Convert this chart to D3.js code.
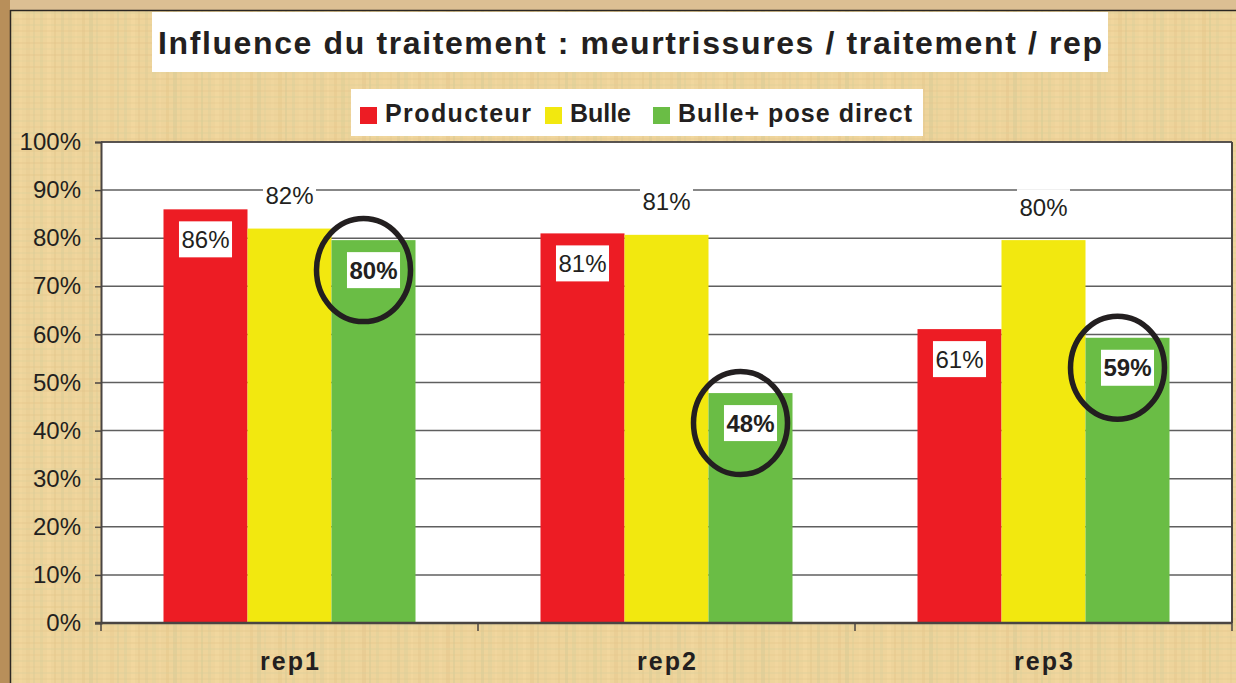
<!DOCTYPE html>
<html>
<head>
<meta charset="utf-8">
<script src="https://cdn.jsdelivr.net/npm/d3@7"></script>
<style>
    body { margin: 0; background: #e9cf98; }
    svg { display: block; }
    text { font-family: Arial, "Liberation Sans", sans-serif; fill: #231f20; }
</style>
</head>
<body>
<div id="chart"></div>
<script>
/////////////////DATA////////////////////////////
var titleText = 'Influence du traitement : meurtrissures / traitement / rep';
var reps = ['rep1', 'rep2', 'rep3'];
var seriesNames = ['Producteur', 'Bulle', 'Bulle+ pose direct'];
var seriesColors = ['#ed1c24', '#f2e80f', '#6abd45'];
var producteur = [0.86, 0.81, 0.611];
var bulle = [0.82, 0.807, 0.796];
var bullePoseDirect = [0.796, 0.478, 0.593];
var yTicks = [0, 0.1, 0.2, 0.3, 0.4, 0.5, 0.6, 0.7, 0.8, 0.9, 1];
// series highlighted with a hand drawn ring
var circledSeries = 'Bulle+ pose direct';
/////////////////END DATA////////////////////////////

var W = 1236, H = 683;
var plot = { left: 101, right: 1232, top: 142, bottom: 623 };
var seriesValues = [producteur, bulle, bullePoseDirect];

var svg = d3.select('#chart').append('svg')
    .attr('width', W)
    .attr('height', H);

// parchment-ish background: base colour + soft woven stripes
var bg = svg.append('g');
bg.append('rect').attr('width', W).attr('height', H).attr('fill', '#eed49b');
var stripeCols = ['#d9cf9a', '#f7dba3', '#e3c489', '#cfc894'];
for (var i = 12; i < W; i += 7) {
    bg.append('rect')
        .attr('x', i).attr('y', 10)
        .attr('width', 2 + (i % 3)).attr('height', H)
        .attr('fill', stripeCols[(i * 7) % 4])
        .attr('opacity', 0.2 + 0.2 * Math.abs(Math.sin(i * 0.37)));
}
for (var j = 12; j < H; j += 6) {
    bg.append('rect')
        .attr('x', 10).attr('y', j)
        .attr('width', W).attr('height', 2 + (j % 2))
        .attr('fill', stripeCols[(j * 5) % 4])
        .attr('opacity', 0.15 + 0.2 * Math.abs(Math.cos(j * 0.29)));
}
// frame strips on the top and left edges
bg.append('rect').attr('x', 0).attr('y', 0).attr('width', W).attr('height', 10).attr('fill', '#dcbf93');
bg.append('rect').attr('x', 0).attr('y', 0).attr('width', 10).attr('height', H).attr('fill', '#b88f5a');
bg.append('line').attr('x1', 10).attr('x2', W).attr('y1', 10.5).attr('y2', 10.5)
    .attr('stroke', '#2b2622').attr('stroke-width', 1.5);
bg.append('line').attr('x1', 10.5).attr('x2', 10.5).attr('y1', 10).attr('y2', H)
    .attr('stroke', '#2b2622').attr('stroke-width', 1.5);

// scales
var x0 = d3.scaleBand().domain(reps).range([plot.left, plot.right]).padding(0);
var x1 = d3.scaleBand().domain(seriesNames).range([0, x0.bandwidth()])
    .paddingInner(0).paddingOuter(0.744);
var y = d3.scaleLinear().domain([0, 1]).range([plot.bottom, plot.top]);
var pct = d3.format('.0%');

// plot area
svg.append('rect')
    .attr('x', plot.left).attr('y', plot.top)
    .attr('width', plot.right - plot.left).attr('height', plot.bottom - plot.top)
    .attr('fill', '#ffffff');

// gridlines
svg.append('g')
    .selectAll('line')
    .data(yTicks.filter(function (t) { return t > 0; }))
    .enter().append('line')
    .attr('x1', plot.left).attr('x2', plot.right)
    .attr('y1', function (d) { return y(d); }).attr('y2', function (d) { return y(d); })
    .attr('stroke', '#5f5f5f').attr('stroke-width', 1.5);

// y axis
var yAxis = svg.append('g')
    .attr('transform', 'translate(' + plot.left + ',0)')
    .call(d3.axisLeft(y).tickValues(yTicks).tickFormat(pct).tickSize(6).tickPadding(14));
yAxis.select('.domain').attr('stroke', '#4a4542').attr('stroke-width', 2);
yAxis.selectAll('.tick line').attr('stroke', '#4a4542').attr('stroke-width', 1.5);
yAxis.selectAll('.tick text')
    .attr('font-size', 24)
    .attr('font-family', 'Arial, "Liberation Sans", sans-serif')
    .attr('fill', '#231f20');

// bars
var groups = svg.append('g').selectAll('g')
    .data(reps)
    .enter().append('g')
    .attr('transform', function (d) { return 'translate(' + x0(d) + ',0)'; });

groups.selectAll('rect')
    .data(function (rep, ri) {
        return seriesNames.map(function (s, si) {
            return { rep: rep, series: s, si: si, value: seriesValues[si][ri] };
        });
    })
    .enter().append('rect')
    .attr('x', function (d) { return x1(d.series); })
    .attr('y', function (d) { return y(d.value); })
    .attr('width', x1.bandwidth())
    .attr('height', function (d) { return y(0) - y(d.value); })
    .attr('fill', function (d) { return seriesColors[d.si]; });

// x axis
svg.append('line')
    .attr('x1', plot.left - 6).attr('x2', plot.right)
    .attr('y1', plot.bottom).attr('y2', plot.bottom)
    .attr('stroke', '#4a4542').attr('stroke-width', 2.5);
svg.append('g').selectAll('line')
    .data(reps.concat(['end']))
    .enter().append('line')
    .attr('x1', function (d) { return d === 'end' ? plot.right : x0(d); })
    .attr('x2', function (d) { return d === 'end' ? plot.right : x0(d); })
    .attr('y1', plot.bottom).attr('y2', plot.bottom + 8)
    .attr('stroke', '#4a4542').attr('stroke-width', 1.5);
// right and top border of plot
svg.append('line')
    .attr('x1', plot.right).attr('x2', plot.right)
    .attr('y1', plot.top).attr('y2', plot.bottom)
    .attr('stroke', '#4a4542').attr('stroke-width', 2);
svg.append('line')
    .attr('x1', plot.left).attr('x2', plot.right)
    .attr('y1', plot.top).attr('y2', plot.top)
    .attr('stroke', '#4a4542').attr('stroke-width', 1.5);

svg.append('g').selectAll('text')
    .data(reps)
    .enter().append('text')
    .attr('x', function (d) { return x0(d) + x0.bandwidth() / 2; })
    .attr('y', 670)
    .attr('text-anchor', 'middle')
    .attr('font-size', 25)
    .attr('font-weight', 'bold')
    .attr('textLength', 59)
    .attr('lengthAdjust', 'spacing')
    .text(function (d) { return d; });

// value labels
var labelLayer = svg.append('g');
reps.forEach(function (rep, ri) {
    seriesNames.forEach(function (s, si) {
        var v = seriesValues[si][ri];
        var cx = x0(rep) + x1(s) + x1.bandwidth() / 2;
        // Bulle label sits above its bar, the others inside
        var cy = si === 1 ? y(v) - 33 : y(v) + 30;
        var g = labelLayer.append('g');
        var box = g.append('rect').attr('fill', '#ffffff');
        var t = g.append('text')
            .attr('x', cx).attr('y', cy)
            .attr('text-anchor', 'middle')
            .attr('dominant-baseline', 'central')
            .attr('font-size', 24)
            .attr('font-weight', si === 2 ? 'bold' : 'normal')
            .text(pct(v));
        var tw = t.node().getComputedTextLength();
        box.attr('x', cx - tw / 2 - 2.5).attr('y', cy - 18)
            .attr('width', tw + 5).attr('height', 36);
    });
});

// rings around the highlighted series
var ci = seriesNames.indexOf(circledSeries);
svg.append('g').selectAll('ellipse')
    .data(reps)
    .enter().append('ellipse')
    .attr('cx', function (d) { return x0(d) + x1(circledSeries) + x1.bandwidth() / 2 - 10; })
    .attr('cy', function (d, i) { return y(seriesValues[ci][i]) + 30; })
    .attr('rx', 47)
    .attr('ry', 51.5)
    .attr('fill', 'none')
    .attr('stroke', '#231f20')
    .attr('stroke-width', 5.5);

// title
svg.append('rect').attr('x', 152).attr('y', 12).attr('width', 956).attr('height', 60).attr('fill', '#ffffff');
svg.append('text')
    .attr('x', 630).attr('y', 54)
    .attr('text-anchor', 'middle')
    .attr('font-size', 32)
    .attr('font-weight', 'bold')
    .attr('textLength', 944)
    .attr('lengthAdjust', 'spacing')
    .text(titleText);

// legend
var legend = svg.append('g');
legend.append('rect').attr('x', 351).attr('y', 89).attr('width', 572).attr('height', 47).attr('fill', '#ffffff');
var legendX = [360, 545, 653];
var legendW = [146, 61, 234];
seriesNames.forEach(function (s, si) {
    legend.append('rect')
        .attr('x', legendX[si]).attr('y', 107)
        .attr('width', 17).attr('height', 17)
        .attr('fill', seriesColors[si]);
    legend.append('text')
        .attr('x', legendX[si] + 25).attr('y', 122)
        .attr('font-size', 25)
        .attr('font-weight', 'bold')
        .attr('textLength', legendW[si])
        .attr('lengthAdjust', 'spacing')
        .text(s);
});
</script>
</body>
</html>
